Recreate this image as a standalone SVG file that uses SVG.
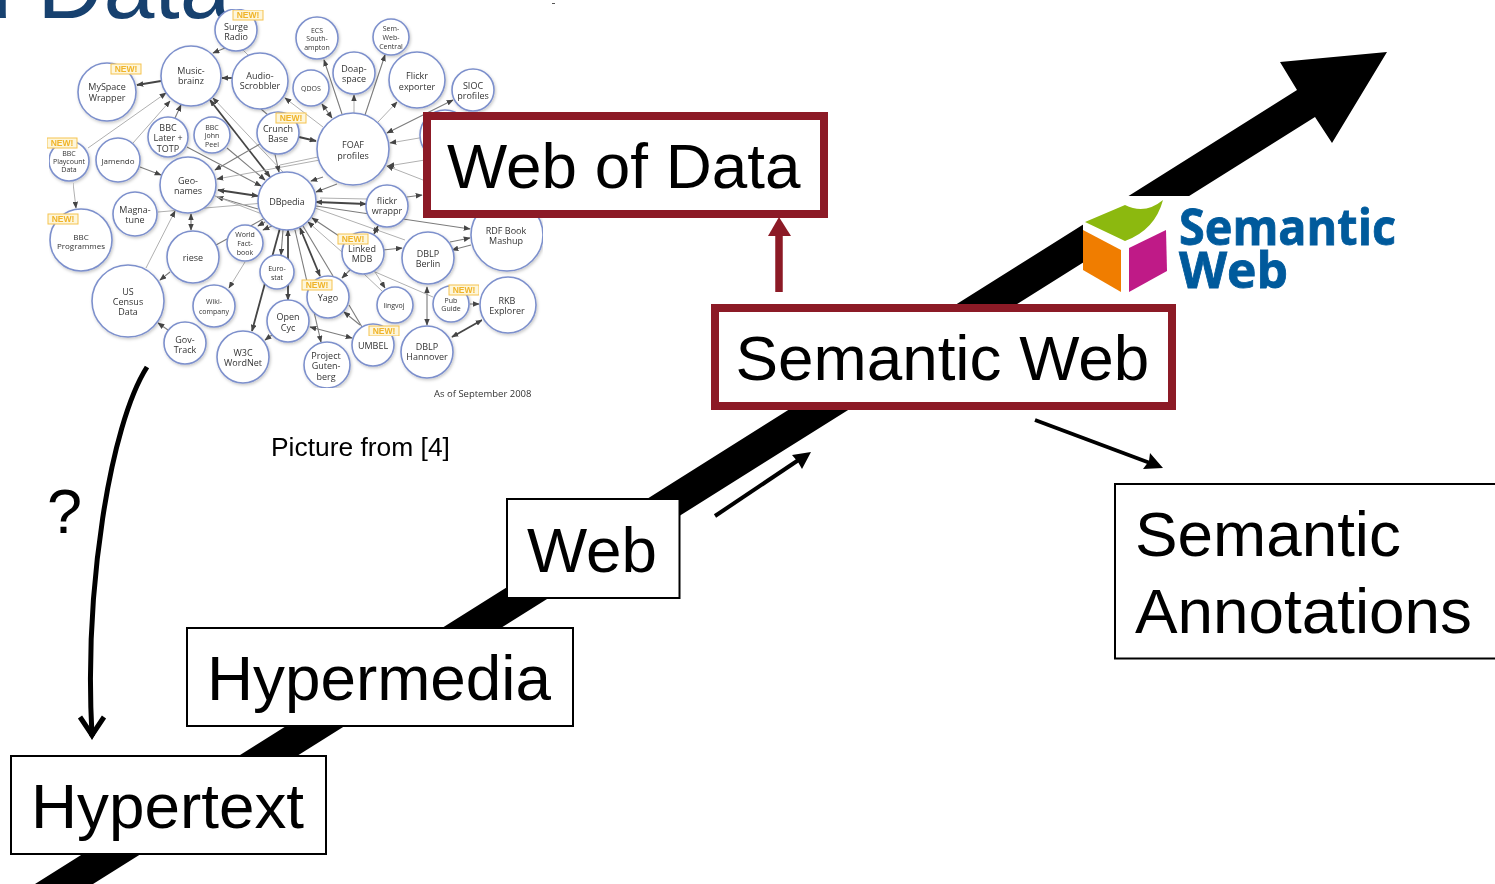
<svg xmlns="http://www.w3.org/2000/svg" width="1495" height="884" viewBox="0 0 1495 884">
<style>
.box{fill:#fff;stroke:#000;stroke-width:2}
.red{fill:#fff;stroke:#8c1a26;stroke-width:8}
.big{font:63.8px "Liberation Sans",Arial,sans-serif;fill:#000}
.c{fill:#fff;stroke:#7d90cc;stroke-width:1.6;filter:url(#sh)}
.n text,.n{font-family:"Open Sans","Liberation Sans",sans-serif;font-size:9px;fill:#333;text-anchor:middle}
.n .s7{font-size:7px}
.n .s8{font-size:8px}
.new{fill:#fdf6dc;stroke:#f5c34e;stroke-width:1}
.nt{font:bold 8.5px "Liberation Sans",Arial,sans-serif;fill:#f0b429;text-anchor:middle}
.l{stroke:#b0b0b0;stroke-width:1;fill:none}
.m{stroke:#7c7c7c;stroke-width:1.1;fill:none}
.d{stroke:#454545;stroke-width:1.8;fill:none}
.a{marker-end:url(#ah)}
.b{marker-start:url(#as);marker-end:url(#ah)}
</style>
<defs>
<filter id="sh" x="-20%" y="-20%" width="150%" height="150%"><feDropShadow dx="1" dy="1.5" stdDeviation="1.5" flood-color="#000" flood-opacity=".22"/></filter>
<filter id="soft" x="0" y="0" width="100%" height="100%"><feGaussianBlur stdDeviation=".35"/></filter>
<marker id="ah" viewBox="0 0 10 8" refX="9" refY="4" markerUnits="userSpaceOnUse" markerWidth="7" markerHeight="5.600" orient="auto"><path d="M0 0L10 4L0 8z" fill="#454545"/></marker>
<marker id="as" viewBox="0 0 10 8" refX="1" refY="4" markerUnits="userSpaceOnUse" markerWidth="7" markerHeight="5.600" orient="auto"><path d="M10 0L0 4L10 8z" fill="#454545"/></marker>
</defs>
<rect width="1495" height="884" fill="#fff"/>
<text x="-39" y="18" font-family="Liberation Sans,Arial,sans-serif" font-size="91.500" fill="#17416f">d Data</text>
<rect x="552" y="3" width="3" height="1" fill="#555"/>

<g id="connectors">
<g filter="url(#soft)">
<path class="m a" d="M225 48L213 53"/><path class="l" d="M243 50L248 55"/><path class="d a" d="M233 78L222 78"/><path class="d a" d="M161 81L137 85"/>
<path class="l a" d="M88 148L166 93"/><path class="l a" d="M133 143L170 101"/><path class="m a" d="M175 118L181 105"/>
<path class="d b" d="M270 177L210 100"/><path class="l a" d="M283 172L213 98"/><path class="m a" d="M260 144L215 170"/>
<path class="m a" d="M187 147L261 186"/><path class="m a" d="M227 148L265 180"/><path class="m a" d="M140 167L161 175"/>
<path class="d b" d="M218 190L258 196"/><path class="m a" d="M258 209L217 197"/><path class="l a" d="M320 160L217 179"/>
<path class="m a" d="M274 150L279 172"/><path class="l a" d="M323 127L285 98"/><path class="m" d="M261 109L268 115"/>
<path class="m b" d="M322 104L332 118"/><path class="m a" d="M342 114L324 60"/><path class="l a" d="M354 113L354 95"/><path class="m a" d="M365 115L385 55"/><path class="l a" d="M378 122L397 102"/>
<path class="m b" d="M387 133L453 100"/><path class="d a" d="M299 137L316 141"/><path class="l a" d="M425 137L390 143"/><path class="l a" d="M423 180L387 166"/><path class="l a" d="M425 160L388 166"/>
<path class="l" d="M318 157L280 165"/><path class="m a" d="M323 177L311 181"/><path class="m a" d="M337 184L316 192"/><path class="l" d="M320 198L367 199"/><path class="m a" d="M407 197L422 195"/>
<path class="d b" d="M316 202L366 204"/><path class="m a" d="M316 206L470 229"/><path class="m a" d="M450 242L470 238"/><path class="m a" d="M471 245L452 250"/><path class="m a" d="M383 250L402 248"/><path class="l" d="M315 208L405 240"/>
<path class="m b" d="M374 234L378 226"/><path class="m b" d="M312 218L345 240"/><path class="l a" d="M342 252L308 222"/><path class="d b" d="M300 228L320 276"/><path class="m" d="M303 226L333 276"/>
<path class="m a" d="M350 270L342 278"/><path class="l a" d="M375 272L385 288"/><path class="l" d="M364 274L382 291"/><path class="l" d="M366 268L433 297"/><path class="m b" d="M427 287L427 325"/><path class="m a" d="M470 304L479 304"/><path class="d b" d="M452 337L482 320"/>
<path class="m" d="M349 305L362 327"/><path class="m a" d="M360 325L344 312"/><path class="m b" d="M352 338L310 327"/><path class="m a" d="M295 230L321 342"/>
<path class="d b" d="M288 230L288 300"/><path class="m a" d="M283 230L281 255"/><path class="d a" d="M280 228L252 331"/><path class="m a" d="M272 335L265 340"/>
<path class="m a" d="M265 222L258 226"/><path class="m a" d="M272 226L263 230"/><path class="m" d="M216 245L265 218"/><path class="m a" d="M170 272L160 280"/><path class="m b" d="M191 214L191 230"/>
<path class="l a" d="M158 212L264 203"/><path class="l a" d="M146 268L175 211"/><path class="l a" d="M73 183L76 208"/><path class="m a" d="M168 330L158 323"/><path class="l a" d="M245 262L229 288"/><path class="l" d="M262 214L215 196"/>
</g>
<path id="timeline" d="M1387 52L1332 143L1315 117L93 884L35 884L1297 90L1280 62z" fill="#000"/>
<path d="M779 292V234" stroke="#8c1a26" stroke-width="7.500" fill="none"/><path d="M768 236L779 217L791 236z" fill="#8c1a26"/>
<path d="M715 516L800 459" stroke="#000" stroke-width="4" fill="none"/><path d="M811 452L792 455L798 462L802 469z" fill="#000"/>
<path d="M1035 420L1150 463" stroke="#000" stroke-width="4" fill="none"/><path d="M1163 468L1150 453L1149 461L1143 469z" fill="#000"/>
<path d="M147 367C110 425 84 590 92 736" stroke="#000" stroke-width="5" fill="none"/><path d="M80 717L92 735L104 717" stroke="#000" stroke-width="5" fill="none"/><path d="M86 729L92 740L98 729z" fill="#000"/>
</g>

<g id="cloud" class="n" filter="url(#soft)">
<g id="n-surge"><circle class="c" cx="236" cy="30" r="21"/><text x="236" y="30">Surge</text><text x="236" y="40">Radio</text></g>
<g id="n-music"><circle class="c" cx="191" cy="76" r="30"/><text x="191" y="74">Music-</text><text x="191" y="84">brainz</text></g>
<g id="n-audio"><circle class="c" cx="260" cy="81" r="28"/><text x="260" y="79">Audio-</text><text x="260" y="89">Scrobbler</text></g>
<g id="n-myspace"><circle class="c" cx="107" cy="92" r="29"/><text x="107" y="90">MySpace</text><text x="107" y="101">Wrapper</text></g>
<g id="n-bbclater"><circle class="c" cx="168" cy="137" r="20"/><text x="168" y="131">BBC</text><text x="168" y="141">Later +</text><text x="168" y="152">TOTP</text></g>
<g id="n-peel"><circle class="c" cx="212" cy="135" r="18"/><text class="s7" x="212" y="130">BBC</text><text class="s7" x="212" y="138">John</text><text class="s7" x="212" y="147">Peel</text></g>
<g id="n-crunch"><circle class="c" cx="278" cy="133" r="21"/><text x="278" y="132">Crunch</text><text x="278" y="142">Base</text></g>
<g id="n-playcount"><circle class="c" cx="69" cy="161" r="20"/><text class="s7" x="69" y="156">BBC</text><text class="s7" x="69" y="164">Playcount</text><text class="s7" x="69" y="172">Data</text></g>
<g id="n-jamendo"><circle class="c" cx="118" cy="160" r="22"/><text class="s8" x="118" y="164">Jamendo</text></g>
<g id="n-geo"><circle class="c" cx="188" cy="185" r="28"/><text x="188" y="184">Geo-</text><text x="188" y="194">names</text></g>
<g id="n-dbpedia"><circle class="c" cx="287" cy="201" r="29"/><text x="287" y="205">DBpedia</text></g>
<g id="n-ecs"><circle class="c" cx="317" cy="38" r="21"/><text class="s7" x="317" y="33">ECS</text><text class="s7" x="317" y="41">South-</text><text class="s7" x="317" y="50">ampton</text></g>
<g id="n-semweb"><circle class="c" cx="391" cy="37" r="18"/><text class="s7" x="391" y="31">Sem-</text><text class="s7" x="391" y="40">Web-</text><text class="s7" x="391" y="49">Central</text></g>
<g id="n-doap"><circle class="c" cx="354" cy="73" r="21"/><text x="354" y="72">Doap-</text><text x="354" y="82">space</text></g>
<g id="n-qdos"><circle class="c" cx="311" cy="88" r="18"/><text class="s7" x="311" y="91">QDOS</text></g>
<g id="n-flickrx"><circle class="c" cx="417" cy="80" r="28"/><text x="417" y="79">Flickr</text><text x="417" y="90">exporter</text></g>
<g id="n-sioc"><circle class="c" cx="473" cy="90" r="21"/><text x="473" y="89">SIOC</text><text x="473" y="99">profiles</text></g>
<g id="n-foaf"><circle class="c" cx="353" cy="149" r="36"/><text x="353" y="148">FOAF</text><text x="353" y="159">profiles</text></g>
<circle class="c" cx="445" cy="135" r="25"/>
<g id="n-bbcprog"><circle class="c" cx="81" cy="240" r="31"/><text class="s8" x="81" y="240">BBC</text><text class="s8" x="81" y="249">Programmes</text></g>
<g id="n-magna"><circle class="c" cx="135" cy="214" r="22"/><text x="135" y="213">Magna-</text><text x="135" y="223">tune</text></g>
<g id="n-riese"><circle class="c" cx="193" cy="257" r="26"/><text x="193" y="261">riese</text></g>
<g id="n-world"><circle class="c" cx="245" cy="243" r="18"/><text class="s7" x="245" y="237">World</text><text class="s7" x="245" y="246">Fact-</text><text class="s7" x="245" y="255">book</text></g>
<g id="n-euro"><circle class="c" cx="277" cy="272" r="17"/><text class="s7" x="277" y="271">Euro-</text><text class="s7" x="277" y="280">stat</text></g>
<g id="n-census"><circle class="c" cx="128" cy="301" r="36"/><text x="128" y="295">US</text><text x="128" y="305">Census</text><text x="128" y="315">Data</text></g>
<g id="n-wiki"><circle class="c" cx="214" cy="306" r="21"/><text class="s7" x="214" y="304">Wiki-</text><text class="s7" x="214" y="314">company</text></g>
<g id="n-gov"><circle class="c" cx="185" cy="343" r="21"/><text x="185" y="343">Gov-</text><text x="185" y="353">Track</text></g>
<g id="n-w3c"><circle class="c" cx="243" cy="357" r="26"/><text x="243" y="356">W3C</text><text x="243" y="366">WordNet</text></g>
<g id="n-cyc"><circle class="c" cx="288" cy="321" r="21"/><text x="288" y="320">Open</text><text x="288" y="331">Cyc</text></g>
<g id="n-wrappr"><circle class="c" cx="387" cy="206" r="21"/><text x="387" y="204">flickr</text><text x="387" y="214">wrappr</text></g>
<g id="n-lmdb"><circle class="c" cx="363" cy="253" r="21"/><text x="362" y="252">Linked</text><text x="362" y="262">MDB</text></g>
<g id="n-berlin"><circle class="c" cx="428" cy="258" r="26"/><text x="428" y="257">DBLP</text><text x="428" y="267">Berlin</text></g>
<g id="n-rdf"><circle class="c" cx="507" cy="235" r="36"/><text x="506" y="234">RDF Book</text><text x="506" y="244">Mashup</text></g>
<g id="n-yago"><circle class="c" cx="328" cy="297" r="21"/><text x="328" y="301">Yago</text></g>
<g id="n-lingvoj"><circle class="c" cx="395" cy="305" r="18"/><text class="s7" x="394" y="308">lingvoj</text></g>
<g id="n-pub"><circle class="c" cx="451" cy="304" r="18"/><text class="s7" x="451" y="303">Pub</text><text class="s7" x="451" y="311">Guide</text></g>
<g id="n-rkb"><circle class="c" cx="508" cy="305" r="28"/><text x="507" y="304">RKB</text><text x="507" y="314">Explorer</text></g>
<g id="n-umbel"><circle class="c" cx="373" cy="345" r="21"/><text x="373" y="349">UMBEL</text></g>
<g id="n-hannover"><circle class="c" cx="427" cy="352" r="26"/><text x="427" y="350">DBLP</text><text x="427" y="360">Hannover</text></g>
<g id="n-gutenberg"><circle class="c" cx="327" cy="365" r="23"/><text x="326" y="359">Project</text><text x="326" y="369">Guten-</text><text x="326" y="380">berg</text></g>
</g>
<g id="newtags" filter="url(#soft)">
<rect class="new" x="233" y="10" width="30" height="10"/><text class="nt" x="248" y="18">NEW!</text>
<rect class="new" x="111" y="64" width="30" height="10"/><text class="nt" x="126" y="72">NEW!</text>
<rect class="new" x="276" y="113" width="30" height="10"/><text class="nt" x="291" y="121">NEW!</text>
<rect class="new" x="47" y="138" width="30" height="10"/><text class="nt" x="62" y="146">NEW!</text>
<rect class="new" x="48" y="214" width="30" height="10"/><text class="nt" x="63" y="222">NEW!</text>
<rect class="new" x="338" y="234" width="30" height="10"/><text class="nt" x="353" y="242">NEW!</text>
<rect class="new" x="302" y="280" width="30" height="10"/><text class="nt" x="317" y="288">NEW!</text>
<rect class="new" x="449" y="285" width="30" height="10"/><text class="nt" x="464" y="293">NEW!</text>
<rect class="new" x="369" y="326" width="30" height="10"/><text class="nt" x="384" y="334">NEW!</text>
</g>
<text x="434" y="397" font-family="Open Sans,Liberation Sans,sans-serif" font-size="9.500" fill="#333">As of September 2008</text>
<text x="271" y="456" font-family="Liberation Sans,Arial,sans-serif" font-size="26.400" fill="#000">Picture from [4]</text>
<text x="47" y="533" font-family="Liberation Sans,Arial,sans-serif" font-size="63" fill="#000">?</text>

<g id="logo">
<rect x="1083" y="196" width="330" height="100" fill="#fff"/>
<path d="M1085 222L1125 205Q1145 215 1163 200Q1155 230 1125 241z" fill="#8cb90f"/>
<path d="M1083 230L1121 250V292L1083 270z" fill="#f07d00"/>
<path d="M1129 248L1166 230L1167 271L1129 292z" fill="#bf1a87"/>
<text x="1179" y="245" font-family="Open Sans,Liberation Sans,sans-serif" font-weight="700" font-size="50" fill="#005a9c" stroke="#005a9c" stroke-width=".8" textLength="217" lengthAdjust="spacingAndGlyphs">Semantic</text>
<text x="1179" y="288" font-family="Open Sans,Liberation Sans,sans-serif" font-weight="700" font-size="50" fill="#005a9c" stroke="#005a9c" stroke-width=".8" textLength="109" lengthAdjust="spacingAndGlyphs">Web</text>
</g>

<g id="b-webofdata"><rect class="red" x="427" y="116" width="397" height="98"/><text class="big" x="447" y="188">Web of Data</text></g>
<g id="b-semweb"><rect class="red" x="715" y="308" width="457" height="98"/><text class="big" x="735.500" y="380">Semantic Web</text></g>
<g id="b-web"><rect class="box" x="507" y="499" width="172.500" height="99"/><text class="big" x="527" y="572">Web</text></g>
<g id="b-hypermedia"><rect class="box" x="187" y="628" width="386" height="98"/><text class="big" x="207" y="700">Hypermedia</text></g>
<g id="b-hypertext"><rect class="box" x="11" y="756" width="315" height="98"/><text class="big" x="31" y="828">Hypertext</text></g>
<g id="b-annotations"><rect class="box" x="1115" y="484" width="382" height="174.500"/><text class="big" x="1135" y="556">Semantic</text><text class="big" x="1135" y="632.500">Annotations</text></g>
</svg>
